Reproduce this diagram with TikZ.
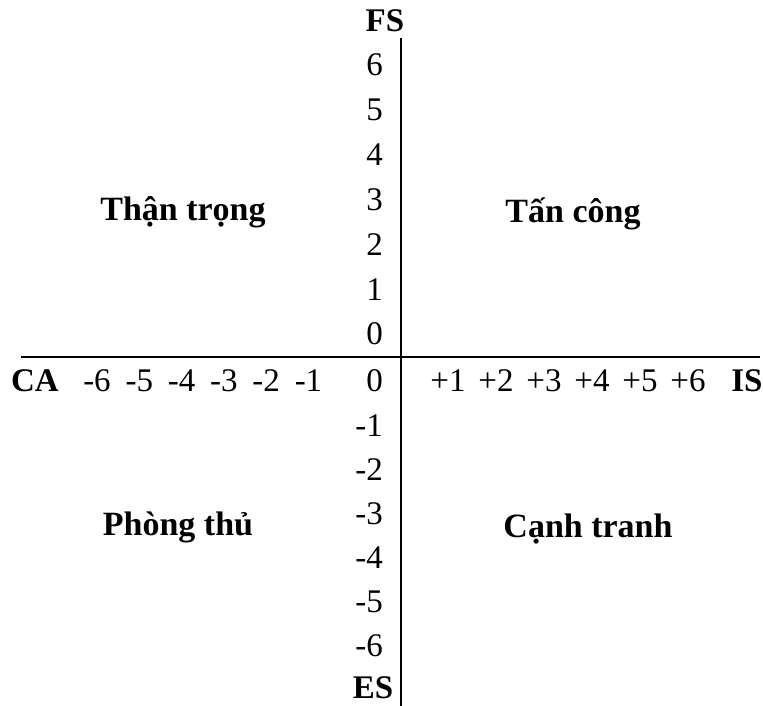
\documentclass[tikz,border=0pt]{standalone}
\usepackage{fontspec}
\setmainfont{Liberation Serif}
\usetikzlibrary{positioning}
\newcommand{\axisfont}{\fontsize{33}{35}\selectfont}
\newcommand{\quadfont}{\fontsize{34}{37}\selectfont\bfseries}

\begin{document}
\begin{tikzpicture}[x=1pt, y=-1pt,
        vtick/.style={font=\axisfont, inner sep=0pt, anchor=east},
        htick/.style={font=\axisfont, inner sep=0pt},
        axname/.style={font=\axisfont\bfseries, inner sep=0pt},
        quad/.style={font=\quadfont, inner sep=0pt},
        axis/.style={line width=2pt, black}
      ]
      \useasboundingbox (0,0) rectangle (763,706);

      % axes
      \coordinate (top) at (401,38);
      \coordinate (bot) at (401,706);
      \coordinate (lft) at (21,357);
      \coordinate (rgt) at (760,357);
      \draw[axis, line width=2.5pt] (top) -- (bot);
      \draw[axis] (lft) -- (rgt);

      % axis names
      \node[axname] (fs) at (385,21) {FS};
      \node[axname] (es) at (373,688) {ES};
      \node[axname] (ca) at (35,381) {CA};
      \node[axname] (is) at (747,381) {IS};

      % vertical ticks
      \foreach \k in {0,...,6}
        \node[vtick] (up\k) at (383,334-44.8*\k) {\k};
      \node[vtick] (dn0) at (383,381) {0};
      \foreach \k in {1,...,6}
        \node[vtick] (dn\k) at (383,381+44.2*\k) {-\k};

      % horizontal ticks
      \foreach \k in {1,...,6} {
        \node[htick] (lt\k) at (308.5-42.3*\k+42.3,381) {-\k};
        \node[htick] (rt\k) at (448+48*\k-48,381) {+\k};
      }

      % quadrants
      \node[quad] (tt) at (183,212) {Thận trọng};
      \node[quad] (tc) at (573,214) {Tấn công};
      \node[quad] (pt) at (178,527) {Phòng thủ};
      \node[quad] (ct) at (588,529) {Cạnh tranh};
    \end{tikzpicture}
\end{document}
